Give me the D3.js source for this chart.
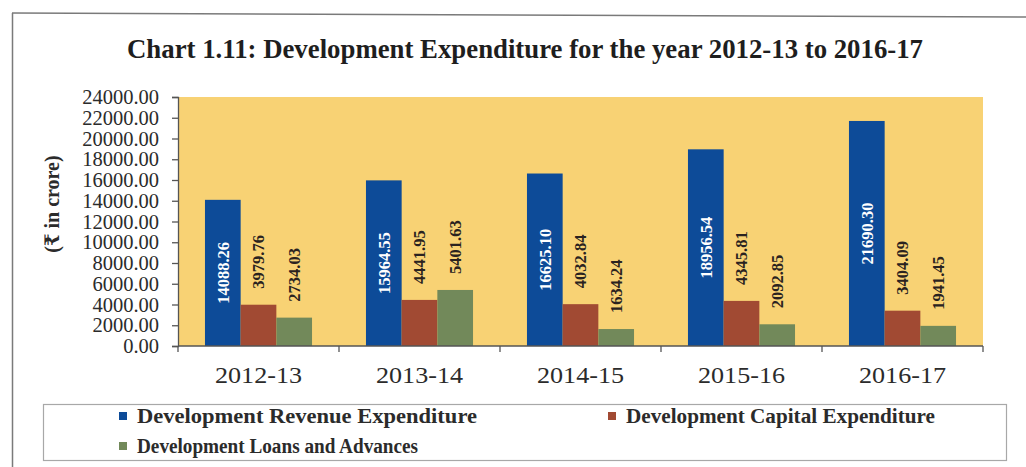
<!DOCTYPE html>
<html>
<head>
<meta charset="utf-8">
<script src="https://cdn.jsdelivr.net/npm/d3@7"></script>
<style>
  html, body { margin: 0; padding: 0; background: #fff; }
  svg { display: block; }
</style>
</head>
<body>
<svg id="chart" width="1026" height="467"></svg>
<script>
// Development expenditure, ₹ in crore
const years = ["2012-13", "2013-14", "2014-15", "2015-16", "2016-17"];
const revenueExp = [14088.26, 15964.55, 16625.10, 18956.54, 21690.30];
const capitalExp = [3979.76, 4441.95, 4032.84, 4345.81, 3404.09];
const loansAdv = [2734.03, 5401.63, 1634.24, 2092.85, 1941.45];
const seriesNames = [
  "Development Revenue Expenditure",
  "Development Capital Expenditure",
  "Development Loans and Advances"
];
const seriesColors = ["#0d4b98", "#a14a33", "#72895a"];
const yTicks = [0, 2000, 4000, 6000, 8000, 10000, 12000, 14000, 16000, 18000, 20000, 22000, 24000];

const series = [revenueExp, capitalExp, loansAdv];
const FONT = "'Liberation Serif', Tinos, 'Times New Roman', Times, 'Nimbus Roman', 'DejaVu Serif Condensed', serif";
const svg = d3.select("#chart").style("font-family", FONT);

// stretch/condense a text element horizontally to a given width
function fitWidth(sel, width) {
  sel.attr("textLength", width).attr("lengthAdjust", "spacingAndGlyphs");
}

// outer frame (left and top edges)
svg.append("line").attr("x1", 12.5).attr("y1", 13).attr("x2", 12.5).attr("y2", 467)
  .attr("stroke", "#7a7a7a").attr("stroke-width", 1.5);
svg.append("line").attr("x1", 12).attr("y1", 13).attr("x2", 1026).attr("y2", 17)
  .attr("stroke", "#7a7a7a").attr("stroke-width", 1.5);

// title
const title = svg.append("text")
  .attr("x", 525).attr("y", 58)
  .attr("text-anchor", "middle")
  .style("font-family", FONT)
  .attr("font-size", 27).attr("font-weight", "bold").attr("fill", "#1e1e1e")
  .text("Chart 1.11: Development Expenditure for the year 2012-13 to 2016-17");
fitWidth(title, 796);

// scales
const plot = { left: 178, right: 983, top: 97, bottom: 346 };
const x0 = d3.scaleBand().domain(years).range([plot.left, plot.right])
  .paddingInner(0.335).paddingOuter(0.1675);
const x1 = d3.scaleBand().domain(d3.range(series.length)).range([0, x0.bandwidth()]);
const y = d3.scaleLinear().domain([0, 24000]).range([plot.bottom, plot.top]);

// plot background
svg.append("rect")
  .attr("x", plot.left).attr("y", y(24000))
  .attr("width", plot.right - plot.left).attr("height", y(0) - y(24000))
  .attr("fill", "#f8d274");

// bars
const groups = svg.append("g").selectAll("g")
  .data(years).join("g")
  .attr("transform", d => `translate(${x0(d)},0)`);

groups.selectAll("rect")
  .data((d, i) => series.map((s, k) => ({ k, v: s[i] })))
  .join("rect")
  .attr("x", d => x1(d.k))
  .attr("y", d => y(d.v))
  .attr("width", x1.bandwidth())
  .attr("height", d => y(0) - y(d.v))
  .attr("fill", d => seriesColors[d.k]);

// value labels, rotated
groups.selectAll("text.val")
  .data((d, i) => series.map((s, k) => ({ k, v: s[i] })))
  .join("text")
  .attr("class", "val")
  .attr("transform", d => {
    const cx = x1(d.k) + x1.bandwidth() / 2;
    const cy = d.k === 0 ? (y(d.v) + y(0)) / 2 : y(d.v) - 16;
    return `translate(${cx},${cy}) rotate(-90)`;
  })
  .attr("dy", "0.35em")
  .attr("text-anchor", d => d.k === 0 ? "middle" : "start")
  .style("font-family", FONT)
  .attr("font-size", 16.5).attr("font-weight", "bold")
  .attr("fill", d => d.k === 0 ? "#ffffff" : "#2a2220")
  .text(d => d3.format(".2f")(d.v));

// y axis
const yAxis = svg.append("g")
  .attr("transform", `translate(${plot.left},0)`)
  .call(d3.axisLeft(y).tickValues(yTicks).tickFormat(d3.format(".2f")).tickSize(6).tickPadding(13));
yAxis.select(".domain").attr("stroke", "#555").attr("stroke-width", 1.3);
yAxis.selectAll(".tick line").attr("stroke", "#555").attr("stroke-width", 1.3);
yAxis.selectAll(".tick text")
  .style("font-family", FONT)
  .attr("font-size", 20.5).attr("fill", "#2b2b2b");

// x axis
const xAxis = svg.append("g")
  .attr("transform", `translate(0,${plot.bottom})`)
  .call(d3.axisBottom(x0).tickSize(0).tickPadding(0));
xAxis.select(".domain").remove();
xAxis.append("line").attr("x1", plot.left).attr("x2", plot.right)
  .attr("stroke", "#555").attr("stroke-width", 1.3);
const boundaries = years.map(d => x0(d) - x0.step() * x0.paddingInner() / 2)
  .concat([plot.right]);
xAxis.selectAll("line.sep").data(boundaries).join("line")
  .attr("class", "sep")
  .attr("x1", d => d).attr("x2", d => d)
  .attr("y1", 0).attr("y2", 6)
  .attr("stroke", "#555").attr("stroke-width", 1.3);
xAxis.selectAll(".tick text")
  .attr("y", 37).attr("dy", 0)
  .style("font-family", FONT)
  .attr("font-size", 24).attr("fill", "#2b2b2b")
  .call(fitWidth, 87);

// y axis title
svg.append("text")
  .attr("transform", "translate(59,204) rotate(-90)")
  .attr("text-anchor", "middle")
  .style("font-family", FONT)
  .attr("font-size", 20).attr("font-weight", "bold").attr("fill", "#2b2b2b")
  .text("(₹ in crore)");

// legend
svg.append("rect")
  .attr("x", 43.5).attr("y", 404.5).attr("width", 963).attr("height", 56)
  .attr("fill", "#fff").attr("stroke", "#a8a8a8").attr("stroke-width", 1.2);

const legendPos = [
  { x: 119, y: 423, w: 340 },
  { x: 608, y: 423, w: 309 },
  { x: 119, y: 453, w: 281 }
];
const legend = svg.append("g").selectAll("g")
  .data(seriesNames).join("g")
  .attr("transform", (d, i) => `translate(${legendPos[i].x},${legendPos[i].y})`);
legend.append("rect")
  .attr("x", 0).attr("y", -11).attr("width", 8).attr("height", 8)
  .attr("fill", (d, i) => seriesColors[i]);
legend.append("text")
  .attr("x", 18).attr("y", 0)
  .style("font-family", FONT)
  .attr("font-size", 20).attr("font-weight", "bold").attr("fill", "#2b2b2b")
  .text(d => d)
  .each(function (d, i) { fitWidth(d3.select(this), legendPos[i].w); });
</script>
</body>
</html>
